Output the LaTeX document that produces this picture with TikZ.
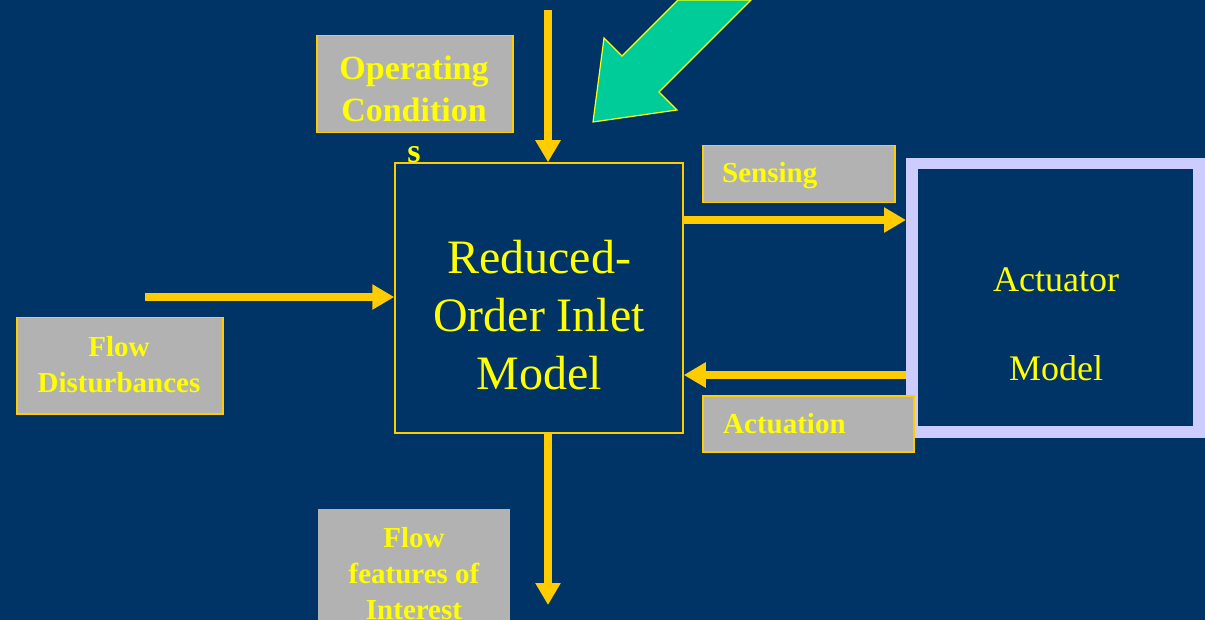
\documentclass[tikz,border=0pt]{standalone}
\usepackage{fontspec}
\setmainfont{Liberation Serif}
\usetikzlibrary{arrows.meta}
\definecolor{navy}{RGB}{0,51,102}
\definecolor{gold}{RGB}{255,204,0}
\definecolor{yel}{RGB}{255,255,0}
\definecolor{greyb}{RGB}{178,178,178}
\definecolor{lav}{RGB}{204,204,255}
\definecolor{teal}{RGB}{0,204,153}
\tikzset{
  labelbox/.style={fill=greyb,draw=gold,line width=1.5pt},
  flowarrow/.style={draw=gold,line width=8pt,-{Triangle[width=24pt,length=22pt]}},
  boldlbl/.style={text=yel,font=\bfseries\fontsize{29}{36}\selectfont,inner sep=0pt,anchor=base},
}
\begin{document}
\begin{tikzpicture}[x=1pt,y=-1pt]
\useasboundingbox (0,0) rectangle (1205,620);
\fill[navy] (0,0) rectangle (1205,620);
% main box
\node[draw=gold,line width=1.5pt,fill=navy,minimum width=288pt,minimum height=270pt,inner sep=0pt] (main) at (539,298) {};
\node[text=yel,font=\fontsize{48}{57}\selectfont,inner sep=0pt,anchor=base] (m1) at (539,274) {Reduced-};
\node[text=yel,font=\fontsize{48}{57}\selectfont,inner sep=0pt,anchor=base] (m2) at (539,332) {Order Inlet};
\node[text=yel,font=\fontsize{48}{57}\selectfont,inner sep=0pt,anchor=base] (m3) at (539,389) {Model};
% actuator box
\fill[lav] (906,158) rectangle (1205,438);
\node[fill=navy,minimum width=275pt,minimum height=257pt,inner sep=0pt,anchor=north west] (act) at (918,169) {};
\node[text=yel,font=\fontsize{36}{40}\selectfont,inner sep=0pt,anchor=base] (a1) at (1056,292) {Actuator};
\node[text=yel,font=\fontsize{36}{40}\selectfont,inner sep=0pt,anchor=base] (a2) at (1056,381) {Model};
\coordinate (actL1) at (906,220);
\coordinate (actL2) at (906,375);
% operating conditions
\node[labelbox,minimum width=196pt,minimum height=97pt,inner sep=0pt,anchor=north west] (op) at (316,35) {};
\node[text=yel,font=\bfseries\fontsize{34}{40}\selectfont,inner sep=0pt,anchor=base] (op1) at (414,80) {Operating};
\node[text=yel,font=\bfseries\fontsize{34}{40}\selectfont,inner sep=0pt,anchor=base] (op2) at (414,122) {Condition};
\node[text=yel,font=\bfseries\fontsize{34}{40}\selectfont,inner sep=0pt,anchor=base] (op3) at (414,163) {s};
% sensing
\node[labelbox,minimum width=192pt,minimum height=57pt,inner sep=0pt,anchor=north west] (sens) at (702,145) {};
\node[boldlbl,anchor=base west] (sensT) at (722,183) {Sensing};
% actuation
\node[labelbox,minimum width=211pt,minimum height=56pt,inner sep=0pt,anchor=north west] (actu) at (702,395) {};
\node[boldlbl,anchor=base west] (actuT) at (723,433) {Actuation};
% flow disturbances
\node[labelbox,minimum width=206pt,minimum height=96pt,inner sep=0pt,anchor=north west] (fd) at (16,317) {};
\node[boldlbl] (fd1) at (119,356) {Flow};
\node[boldlbl] (fd2) at (119,392) {Disturbances};
% flow features
\fill[greyb] (318,509) rectangle (510,620);
\node[boldlbl] (ff1) at (414,547) {Flow};
\node[boldlbl] (ff2) at (414,583) {features of};
\node[boldlbl] (ff3) at (414,619) {Interest};
% arrows
\coordinate (topin) at (548,10);
\coordinate (fdin) at (145,297);
\coordinate (botout) at (548,605);
\draw[flowarrow] (topin) -- (main.north -| topin);
\draw[flowarrow] (fdin) -- (main.west |- fdin);
\draw[flowarrow] (main.east |- actL1) -- (actL1);
\draw[flowarrow] (actL2) -- (main.east |- actL2);
\draw[flowarrow] (main.south -| botout) -- (botout);
% green arrow
\draw[fill=teal,draw=yel,line width=1.2pt] (593,122) -- (604,38) -- (622,56) -- (678,0) -- (751,0) -- (659,92) -- (677,110) -- cycle;
\end{tikzpicture}
\end{document}
